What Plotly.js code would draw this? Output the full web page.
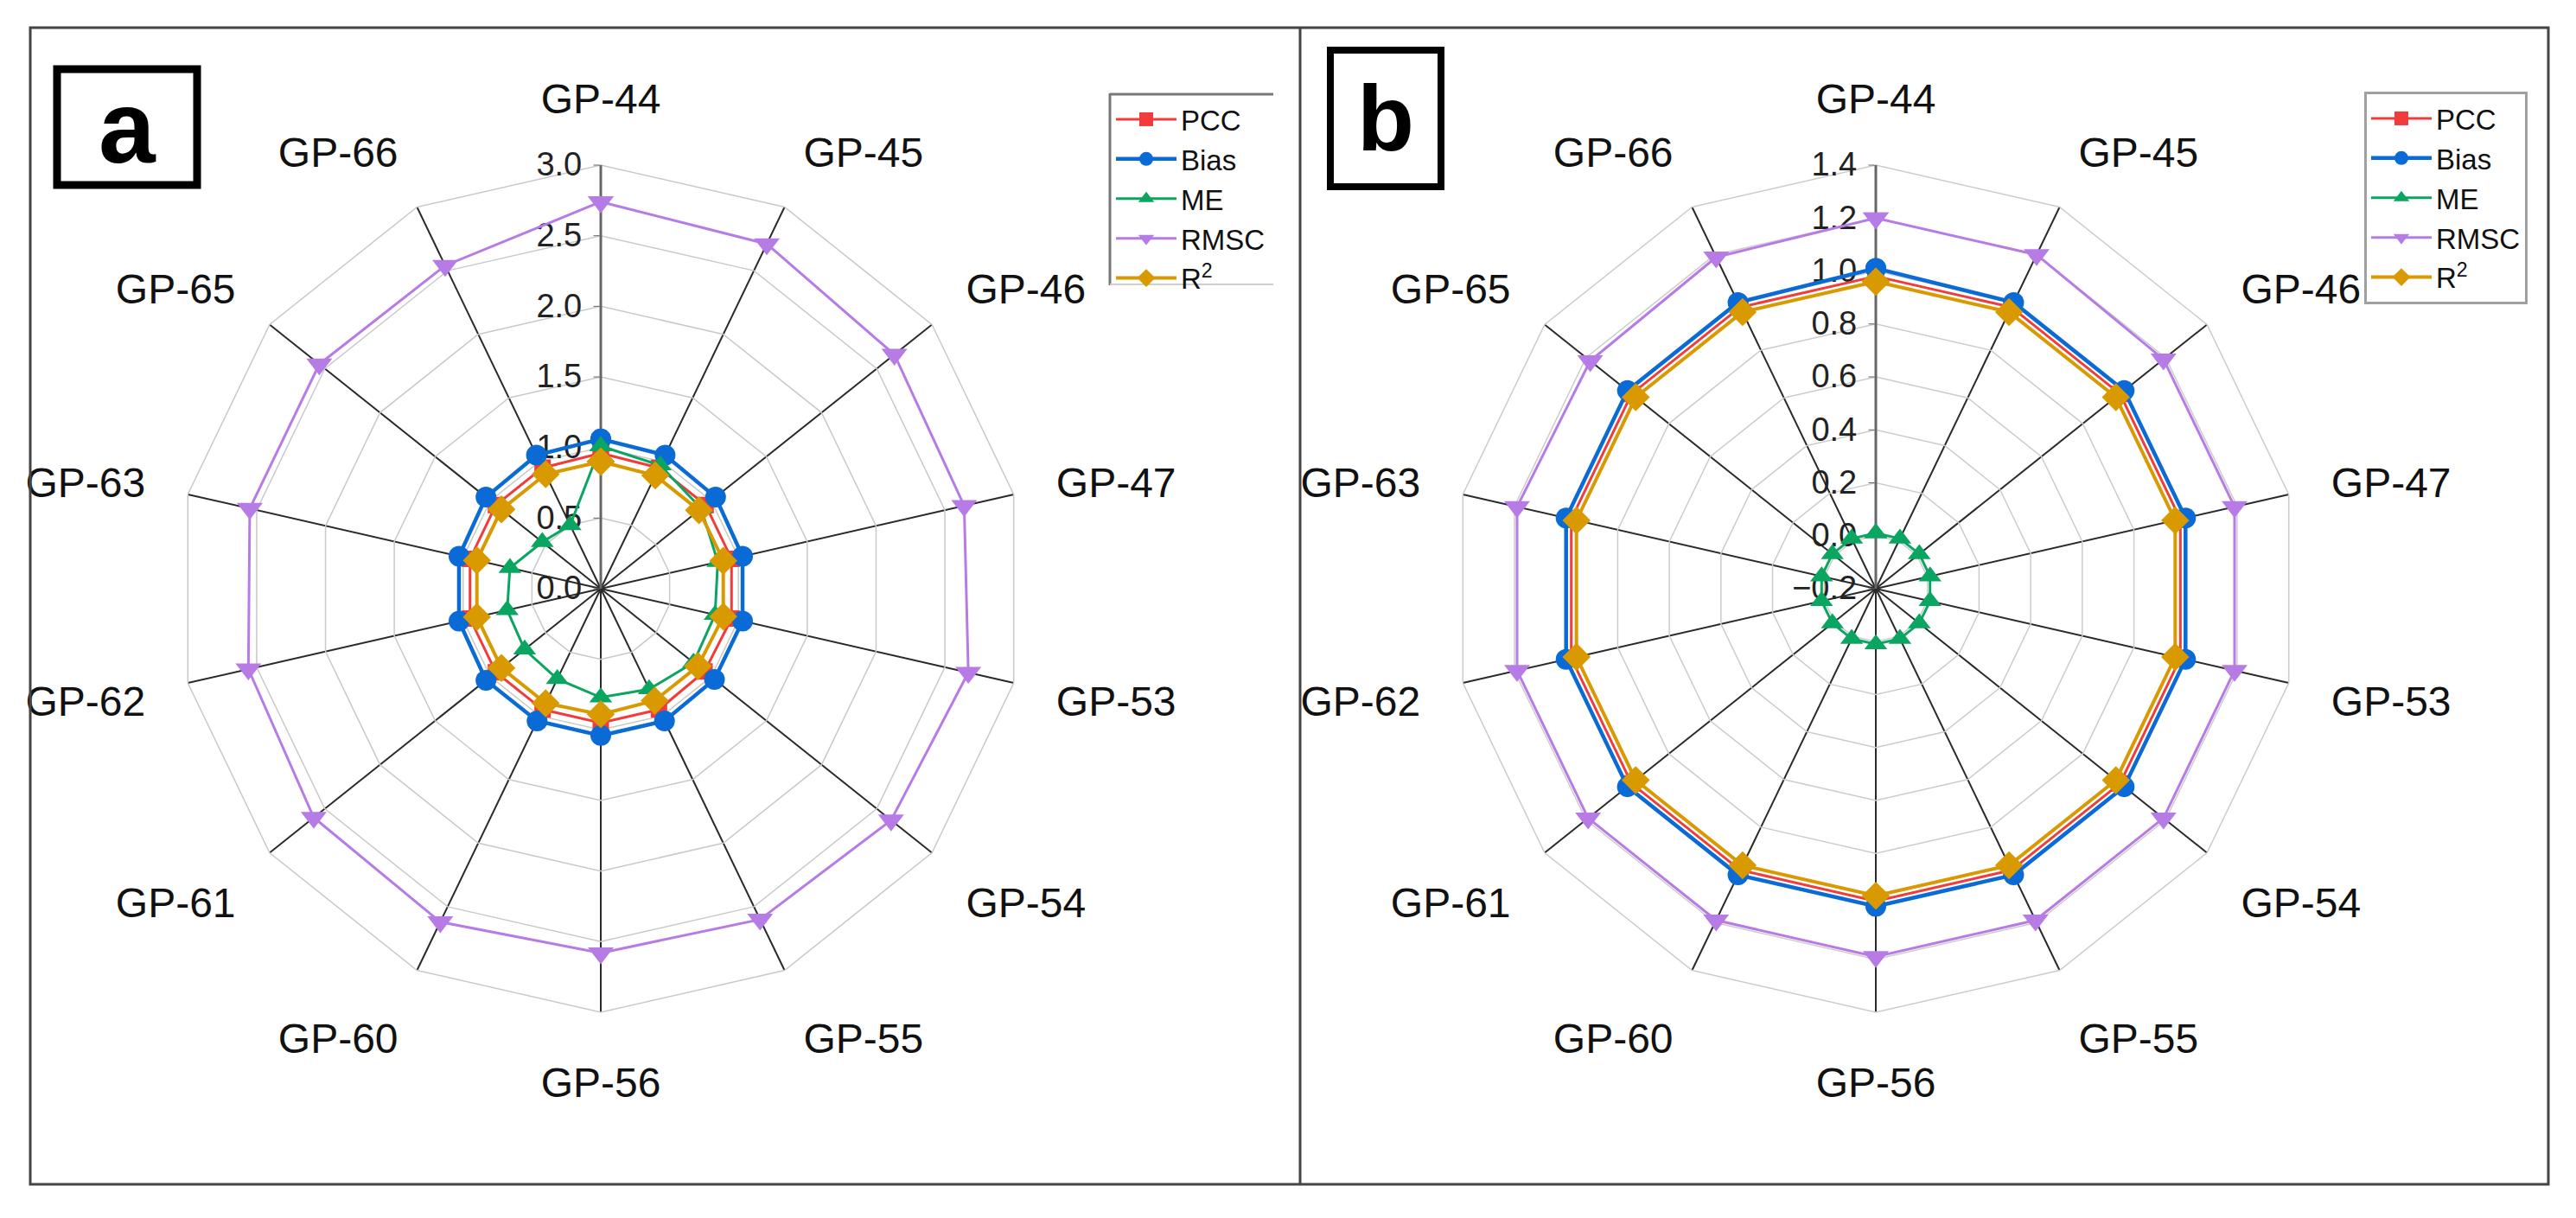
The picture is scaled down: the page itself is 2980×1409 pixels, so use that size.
<!DOCTYPE html>
<html>
<head>
<meta charset="utf-8">
<script src="https://cdn.plot.ly/plotly-3.0.1.min.js"></script>
<style>html,body{margin:0;padding:0;background:#fff;}#chart{width:2980px;height:1409px;}</style>
</head>
<body>
<div id="chart"></div>
<script>
const categories = ['GP-44','GP-45','GP-46','GP-47','GP-53','GP-54','GP-55','GP-56','GP-60','GP-61','GP-62','GP-63','GP-65','GP-66'];
const seriesNames = ['PCC','Bias','ME','RMSC','R<sup>2</sup>'];

// Panel a values
const pccA  = [0.96,0.95,0.95,0.95,0.95,0.94,0.95,0.95,0.95,0.95,0.95,0.95,0.95,0.95];
const biasA = [1.06,1.05,1.04,1.03,1.03,1.03,1.04,1.04,1.04,1.04,1.03,1.03,1.04,1.05];
const meA   = [1.01,0.97,0.91,0.85,0.83,0.84,0.79,0.77,0.71,0.69,0.68,0.66,0.53,0.50];
const rmscA = [2.74,2.71,2.66,2.64,2.67,2.63,2.60,2.58,2.62,2.60,2.56,2.55,2.55,2.54];
const r2A   = [0.90,0.89,0.89,0.89,0.89,0.88,0.88,0.89,0.90,0.90,0.90,0.90,0.90,0.90];

// Panel b values
const pccB  = [0.98,0.98,0.98,0.98,0.98,0.98,0.98,0.98,0.98,0.98,0.98,0.98,0.98,0.98];
const biasB = [1.01,1.00,1.00,1.00,1.00,1.00,1.00,1.00,1.00,1.00,1.00,1.00,1.00,1.00];
const meB   = [0.01,0.01,0.01,0.01,0.01,0.01,0.01,0.01,0.01,0.01,0.01,0.01,0.01,0.01];
const rmscB = [1.20,1.20,1.19,1.19,1.19,1.19,1.19,1.19,1.19,1.19,1.19,1.19,1.18,1.19];
const r2B   = [0.96,0.96,0.96,0.96,0.96,0.96,0.96,0.96,0.96,0.96,0.96,0.96,0.96,0.96];

const radialTicksA = [0,0.5,1.0,1.5,2.0,2.5,3.0];
const radialTicksB = [-0.2,0,0.2,0.4,0.6,0.8,1.0,1.2,1.4];

const colors = ['#f23c3c','#0a6ad6','#0ba562','#b77be6','#d89a00'];
const symbols = ['square','circle','triangle-up','triangle-down','diamond'];
const sizes = [19,24,23,26,25];
const widths = [3,4.5,3,3,4];

const FONT = 'Arial, "Liberation Sans", sans-serif';
const W = 2980, H = 1409;
const px = v => v / W;
const py = v => 1 - v / H;

function close(arr){ return arr.concat([arr[0]]); }

function makeTraces(seriesList, subplot, legend){
  return seriesList.map((vals, i) => ({
    type: 'scatterpolar',
    mode: 'lines+markers',
    name: seriesNames[i],
    theta: close(categories),
    r: close(vals),
    subplot: subplot,
    legend: legend,
    cliponaxis: true,
    line: {color: colors[i], width: widths[i]},
    marker: {color: colors[i], symbol: symbols[i], size: sizes[i], line: {width: 0}}
  }));
}

const data = [].concat(
  makeTraces([pccA, biasA, meA, rmscA, r2A], 'polar', 'legend'),
  makeTraces([pccB, biasB, meB, rmscB, r2B], 'polar2', 'legend2')
);

const R = 490;
function polarLayout(cx, cy, range, ticks, gridcolor, griddash){
  return {
    domain: {x: [px(cx - R), px(cx + R)], y: [py(cy + R), py(cy - R)]},
    bgcolor: 'rgba(0,0,0,0)',
    gridshape: 'linear',
    angularaxis: {
      type: 'category',
      direction: 'clockwise',
      rotation: 90,
      categoryorder: 'array',
      categoryarray: categories,
      showline: true,
      linecolor: gridcolor,
      linewidth: 1.5,
      gridcolor: '#2a2a2a',
      gridwidth: 2,
      ticks: 'outside',
      ticklen: 40,
      tickcolor: 'rgba(0,0,0,0)',
      tickfont: {family: FONT, size: 48, color: '#111'},
      layer: 'below traces'
    },
    radialaxis: {
      range: range,
      tickvals: ticks,
      tickformat: '.1f',
      angle: 90,
      side: 'counterclockwise',
      tickangle: 90,
      showline: true,
      linecolor: '#666',
      linewidth: 3,
      ticks: 'outside',
      ticklen: 7,
      tickcolor: '#666',
      gridcolor: gridcolor,
      gridwidth: 1.5,
      griddash: griddash,
      tickfont: {family: FONT, size: 38, color: '#222'},
      layer: 'below traces'
    }
  };
}

const layout = {
  width: W, height: H,
  margin: {l: 0, r: 0, t: 0, b: 0},
  paper_bgcolor: '#fff',
  plot_bgcolor: '#fff',
  font: {family: FONT, color: '#111'},
  polar: polarLayout(695, 681, [0, 3.0], radialTicksA, '#c9c9c9', 'solid'),
  polar2: polarLayout(2170, 681, [-0.2, 1.4], radialTicksB, '#cccccc', 'solid'),
  legend: {
    x: px(1286), y: py(110), xanchor: 'left', yanchor: 'top',
    bgcolor: 'rgba(255,255,255,0)', borderwidth: 0,
    font: {family: FONT, size: 33, color: '#111'},
    itemwidth: 70, tracegroupgap: 0
  },
  legend2: {
    x: px(2735), y: py(106), xanchor: 'left', yanchor: 'top',
    bgcolor: '#fff', bordercolor: '#a0a0a0', borderwidth: 3,
    font: {family: FONT, size: 33, color: '#111'},
    itemwidth: 70, tracegroupgap: 0
  },
  shapes: [
    {type: 'rect', xref: 'paper', yref: 'paper', x0: px(35), x1: px(2948), y0: py(1370), y1: py(32), line: {color: '#444', width: 3}},
    {type: 'line', xref: 'paper', yref: 'paper', x0: px(1504), x1: px(1504), y0: py(1370), y1: py(32), line: {color: '#444', width: 3}},
    {type: 'rect', xref: 'paper', yref: 'paper', x0: px(66), x1: px(228), y0: py(214), y1: py(80), line: {color: '#000', width: 9}},
    {type: 'rect', xref: 'paper', yref: 'paper', x0: px(1539), x1: px(1667), y0: py(216), y1: py(58), line: {color: '#000', width: 8}},
    {type: 'line', xref: 'paper', yref: 'paper', x0: px(1284), x1: px(1284), y0: py(330), y1: py(108), line: {color: '#777', width: 3}},
    {type: 'line', xref: 'paper', yref: 'paper', x0: px(1284), x1: px(1473), y0: py(109), y1: py(109), line: {color: '#777', width: 3}},
    {type: 'line', xref: 'paper', yref: 'paper', x0: px(1284), x1: px(1473), y0: py(329), y1: py(329), line: {color: '#cfcfcf', width: 2}}
  ],
  annotations: [
    {text: '<b>a</b>', xref: 'paper', yref: 'paper', x: px(147), y: py(147), xanchor: 'center', yanchor: 'middle', showarrow: false, font: {family: FONT, size: 118, color: '#000'}},
    {text: '<b>b</b>', xref: 'paper', yref: 'paper', x: px(1603), y: py(137), xanchor: 'center', yanchor: 'middle', showarrow: false, font: {family: FONT, size: 108, color: '#000'}}
  ]
};

Plotly.newPlot('chart', data, layout, {displayModeBar: false, staticPlot: true});
</script>
</body>
</html>
